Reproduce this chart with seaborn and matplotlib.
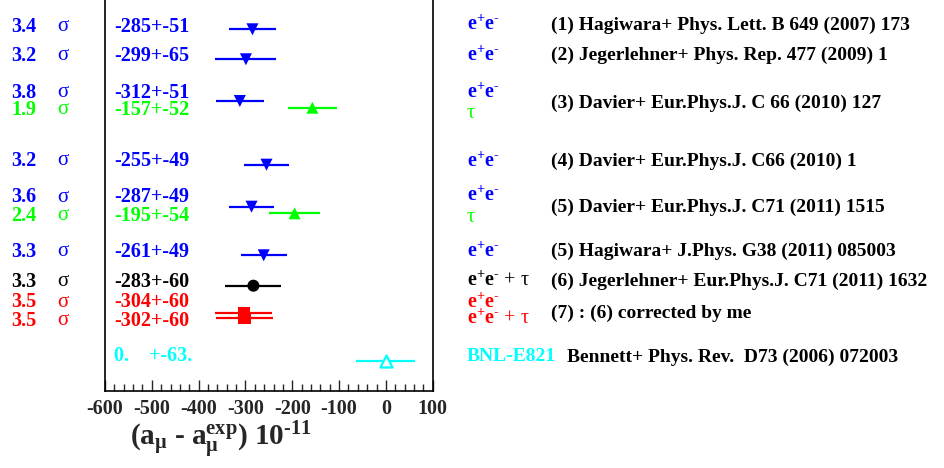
import matplotlib
matplotlib.use("Agg")
import matplotlib.pyplot as plt
import matplotlib.transforms as mtransforms
from matplotlib.ticker import MultipleLocator
import pandas as pd
import seaborn as sns

# central values / errors of (a_mu - a_mu^exp) in 1e-11
central = [-285, -299, -312, -157, -255, -287, -195, -261, -283, -304, -302, 0]
error = [51, 65, 51, 52, 49, 49, 54, 49, 60, 60, 60, 63]
row_y = [2.93, 5.93, 10.1, 10.77, 16.47, 20.67, 21.33, 25.53, 28.57, 31.27, 31.8, 36.07]
kind = ['ee', 'ee', 'ee', 'tau', 'ee', 'ee', 'tau', 'ee', 'eetau', 'red', 'red', 'bnl']
value_text = ['-285+-51', '-299+-65', '-312+-51', '-157+-52', '-255+-49', '-287+-49',
              '-195+-54', '-261+-49', '-283+-60', '-304+-60', '-302+-60', '0.    +-63.']
sigma_text = ['3.4', '3.2', '3.8', '1.9', '3.2', '3.6', '2.4', '3.3', '3.3', '3.5', '3.5', '']
label_y = [2.4, 5.33, 9.0, 10.73, 15.83, 19.5, 21.33, 24.93, 27.93, 30.0, 31.83, 35.4]

# right-hand annotations
EE = r'$\mathbf{e^{+}e^{\text{-}}}$'
source_text = [EE, EE, EE, 'τ', EE, EE, 'τ', EE, EE + ' + τ', EE, EE + ' + τ']
source_kind = ['ee', 'ee', 'ee', 'tau', 'ee', 'ee', 'tau', 'ee', 'eetau', 'red', 'red']
source_y = [2.5, 5.6, 9.3, 11.3, 16.2, 19.65, 21.75, 25.2, 28.1, 30.35, 31.9]
refs = ['(1) Hagiwara+ Phys. Lett. B 649 (2007) 173',
        '(2) Jegerlehner+ Phys. Rep. 477 (2009) 1',
        '(3) Davier+ Eur.Phys.J. C 66 (2010) 127',
        '(4) Davier+ Eur.Phys.J. C66 (2010) 1',
        '(5) Davier+ Eur.Phys.J. C71 (2011) 1515',
        '(5) Hagiwara+ J.Phys. G38 (2011) 085003',
        '(6) Jegerlehner+ Eur.Phys.J. C71 (2011) 1632',
        '(7) : (6) corrected by me']
refs_y = [2.3, 5.3, 10.17, 15.9, 20.57, 24.9, 27.9, 31.17]
bnl_ref = 'Bennett+ Phys. Rev.  D73 (2006) 072003'

colors = {'ee': '#0000ff', 'tau': '#00ff00', 'eetau': '#000000', 'red': '#ff0000', 'bnl': '#00ffff'}
markers = {'ee': 'v', 'tau': '^', 'eetau': 'o', 'red': 's', 'bnl': '^'}

df = pd.DataFrame({'x': central, 'err': error, 'y': row_y, 'kind': kind})

sns.set_style("white")
plt.rcParams['font.family'] = ['Liberation Serif', 'DejaVu Serif']
plt.rcParams['mathtext.fontset'] = 'custom'
plt.rcParams['mathtext.rm'] = 'Liberation Serif:bold'
plt.rcParams['mathtext.it'] = 'Liberation Serif:bold'
plt.rcParams['mathtext.bf'] = 'Liberation Serif:bold'
plt.rcParams['axes.unicode_minus'] = False

fig = plt.figure(figsize=(9.45, 4.68), dpi=100)
ax = fig.add_axes([105 / 945, 1 - 390.7 / 468, (432.7 - 105) / 945, 390.7 / 468])

for _, r in df.iterrows():
    ax.hlines(r['y'], r['x'] - r['err'], r['x'] + r['err'], color=colors[r['kind']], lw=1.6)

filled = df[df['kind'] != 'bnl']
sns.scatterplot(data=filled, x='x', y='y', hue='kind', style='kind', palette=colors,
                markers=markers, s=75, edgecolor='none', legend=False, ax=ax, zorder=3)
sns.scatterplot(data=df[df['kind'] == 'bnl'], x='x', y='y', marker='^', s=75,
                facecolor='white', edgecolor=colors['bnl'], linewidth=1.6,
                legend=False, ax=ax, zorder=3)

ax.set_xlim(-600, 100)
ax.set_ylim(39.07, 0)
ax.set_yticks([])
ax.set_xlabel('')
ax.set_ylabel('')
ax.xaxis.set_major_locator(MultipleLocator(100))
ax.xaxis.set_minor_locator(MultipleLocator(20))
ax.tick_params(axis='x', which='major', direction='in', length=8, width=1, bottom=True,
               labelsize=14.5, pad=6)
ax.tick_params(axis='x', which='minor', direction='in', length=5, width=1, bottom=True)
for lab in ax.get_xticklabels():
    lab.set_fontweight('bold')
for side in ['left', 'right', 'bottom']:
    ax.spines[side].set_color('black')
    ax.spines[side].set_linewidth(1.2)
ax.spines['top'].set_visible(False)

trans = mtransforms.blended_transform_factory(fig.transFigure, ax.transData)
for i in range(len(central)):
    c = colors[kind[i]]
    ax.text(114 / 945, label_y[i], value_text[i], transform=trans, color=c,
            fontsize=14.5, fontweight='bold', va='center_baseline', ha='left')
    if sigma_text[i]:
        ax.text(11 / 945, label_y[i], sigma_text[i], transform=trans, color=c,
                fontsize=14.5, fontweight='bold', va='center_baseline', ha='left', clip_on=False)
        ax.text(57 / 945, label_y[i], 'σ', transform=trans, color=c,
                fontsize=15, va='center_baseline', ha='left', clip_on=False)

for t, k, y in zip(source_text, source_kind, source_y):
    ax.text(467 / 945, y, t, transform=trans, color=colors[k], fontsize=14.5,
            va='center', ha='left', clip_on=False)
for t, y in zip(refs, refs_y):
    ax.text(551 / 945, y, t, transform=trans, color='black', fontsize=14,
            fontweight='bold', va='center_baseline', ha='left', clip_on=False)
ax.text(467 / 945, 35.5, 'BNL-E821', transform=trans, color=colors['bnl'], fontsize=14,
        fontweight='bold', va='center_baseline', ha='left', clip_on=False)
ax.text(567 / 945, 35.5, bnl_ref, transform=trans, color='black', fontsize=14,
        fontweight='bold', va='center_baseline', ha='left', clip_on=False)

fig.text(130 / 945, 1 - 440 / 468, r'(a$_{\mu}$ - a$_{\mu}^{exp}$) 10$^{\text{-}11}$',
         fontsize=21, fontweight='bold', va='center', ha='left')

fig.savefig('out.png', dpi=100, facecolor='white')
